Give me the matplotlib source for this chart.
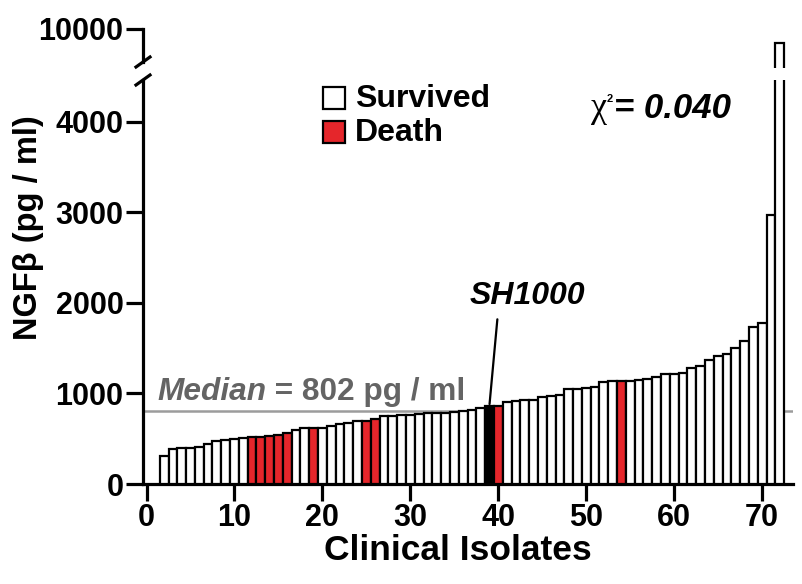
import matplotlib
matplotlib.use("Agg")
import matplotlib.pyplot as plt
from matplotlib.patches import Rectangle
from matplotlib.lines import Line2D

# ---------------- data ----------------
isolates = list(range(2, 73))          # bar positions along the x axis (first isolate bar sits at 2)
ngf_values = [309, 390, 397, 401, 405, 445, 478, 486, 500, 504,
              519, 522, 530, 541, 559, 596, 614, 618, 620, 640,
              662, 677, 692, 700, 714, 750, 752, 758, 765, 773,
              780, 784, 787, 795, 809, 820, 835, 857, 865, 908,
              920, 924, 927, 957, 971, 979, 1049, 1052, 1056, 1074,
              1122, 1137, 1137, 1140, 1148, 1155, 1177, 1214, 1215, 1221,
              1276, 1306, 1369, 1413, 1431, 1505, 1582, 1733, 1773, 2969,
              9300]
death_isolates = [12, 13, 14, 15, 16, 19, 25, 26, 40, 54]
reference_isolate = 39           # SH1000
median_value = 802
x_ticks = [0, 10, 20, 30, 40, 50, 60, 70]
y_ticks_low = [0, 1000, 2000, 3000, 4000]
y_ticks_high = [10000]

RED = "#E5262B"
GRAY_TXT = "#646464"
GRAY_LINE = "#9C9C9C"

plt.rcParams['font.family'] = ['Liberation Sans', 'DejaVu Sans']
plt.rcParams['font.weight'] = 'bold'

W, H = 803, 584
fig = plt.figure(figsize=(W / 100, H / 100), dpi=100)

def fx(px):
    return px / W

def fy(py):
    return 1 - py / H

left_px, right_px = 143, 793
low_top, low_bot = 80, 484
up_top, up_bot = 29, 68

ax = fig.add_axes([fx(left_px), fy(low_bot), fx(right_px) - fx(left_px), fy(low_top) - fy(low_bot)])
axu = fig.add_axes([fx(left_px), fy(up_bot), fx(right_px) - fx(left_px), fy(up_top) - fy(up_bot)])

face = []
for i in isolates:
    if i == reference_isolate:
        face.append("black")
    elif i in death_isolates:
        face.append(RED)
    else:
        face.append("white")

for a in (ax, axu):
    a.bar(isolates, ngf_values, width=1.0, color=face, edgecolor="black", linewidth=1.6, zorder=3)
    a.set_xlim(-0.4, 73.5)
    a.patch.set_alpha(0)

ax.set_ylim(0, 4459)
axu.set_ylim(8000, 10000)

# spines
for a in (ax, axu):
    a.spines['top'].set_visible(False)
    a.spines['right'].set_visible(False)
    a.spines['left'].set_linewidth(2.3)
    a.spines['bottom'].set_linewidth(2.3)
axu.spines['bottom'].set_visible(False)
axu.spines['left'].set_bounds(8330, 10000)

TICK_FS = 22
ax.set_xticks(x_ticks)
ax.set_yticks(y_ticks_low)
axu.set_yticks(y_ticks_high)
axu.set_xticks([])
ax.tick_params(axis='both', length=12, width=2.3, labelsize=TICK_FS, pad=2, direction='out')
axu.tick_params(axis='y', length=12, width=2.3, labelsize=TICK_FS, pad=2, direction='out')
axu.tick_params(axis='x', bottom=False, labelbottom=False)
for lab in ax.get_xticklabels() + ax.get_yticklabels() + axu.get_yticklabels():
    lab.set_fontweight('bold')

# break marks on the y axis
for yb in (62, 80):
    fig.add_artist(Line2D([fx(left_px - 7), fx(left_px + 7)], [fy(yb + 5), fy(yb - 5)],
                          color="black", lw=2.3, transform=fig.transFigure))

# median line and label
ax.axhline(median_value, color=GRAY_LINE, lw=1.8, zorder=2)
t_med = fig.text(fx(157), fy(400), "Median", fontsize=22.8, fontweight='bold', style='italic',
                 color=GRAY_TXT, va='baseline', ha='left')
ax.annotate(f" = {median_value} pg / ml", xy=(1, 0), xycoords=t_med, va='bottom', ha='left',
            fontsize=22.8, fontweight='bold', color=GRAY_TXT, annotation_clip=False)

# SH1000 annotation
ref_val = ngf_values[isolates.index(reference_isolate)]
ax.annotate("SH1000", xy=(reference_isolate, ref_val + 25), xycoords='data',
            xytext=(fx(527), fy(304)), textcoords='figure fraction',
            ha='center', va='baseline', fontsize=23, fontweight='bold', style='italic',
            arrowprops=dict(arrowstyle='-', lw=1.6, color='black', relpos=(0.25, 0),
                            shrinkA=4, shrinkB=0), annotation_clip=False)

# chi-square text
t_chi = fig.text(fx(591), fy(117), "\u03c7", fontsize=26, family=['Liberation Serif', 'DejaVu Serif'],
                 fontweight='normal', va='baseline', ha='left')
t_sq = ax.annotate("2", xy=(0.95, 0.78), xycoords=t_chi, va='center', ha='left', fontsize=8,
                   fontweight='bold', annotation_clip=False)
ax.annotate("= 0.040", xy=(1.2, 0), xycoords=(t_sq, t_chi), va='bottom', ha='left', fontsize=25,
            fontweight='bold', style='italic', annotation_clip=False)

# legend
for (ytop, fc, label) in ((87, "white", "Survived"), (121, RED, "Death")):
    fig.add_artist(Rectangle((fx(323), fy(ytop + 22)), fx(22), 22 / H, facecolor=fc,
                             edgecolor="black", lw=1.6, transform=fig.transFigure))
    fig.text(fx(355), fy(ytop + 12), label, fontsize=23, fontweight='bold', va='center', ha='left')

# axis labels
fig.text(fx(29), fy(228), "NGF\u03b2 (pg / ml)", rotation=90, fontsize=23.5, fontweight='bold',
         va='center', ha='center')
fig.text(fx(458), fy(551), "Clinical Isolates", fontsize=25.5, fontweight='bold', va='center', ha='center')

fig.savefig("out.png", dpi=100)
